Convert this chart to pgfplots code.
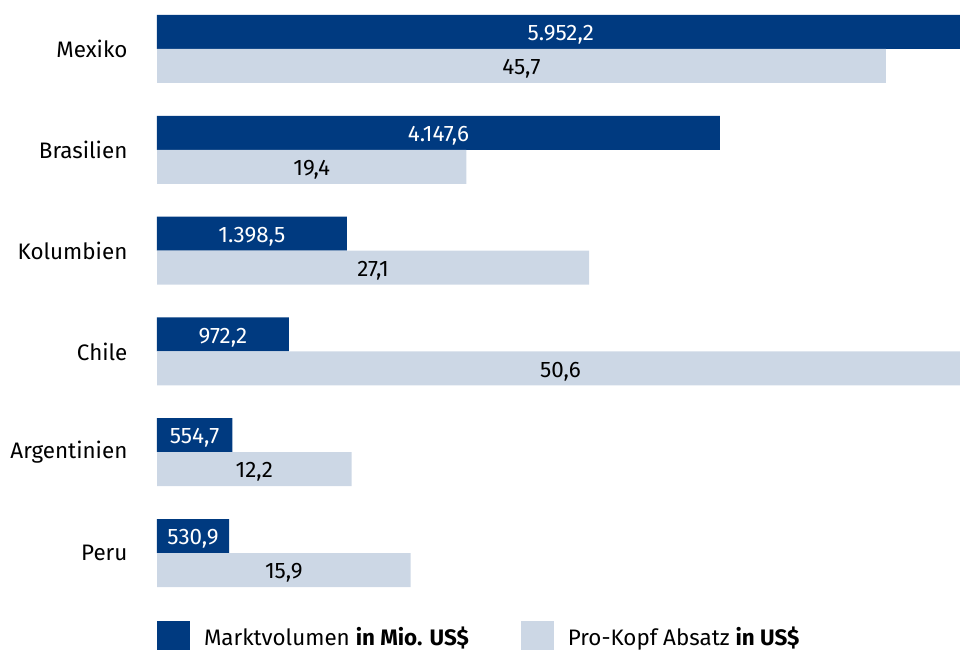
\documentclass[border=0pt]{standalone}
\usepackage{pgfplots}
\pgfplotsset{compat=1.18}
\usepackage{pgfplotstable}
\usepackage{fontspec}
\setmainfont{Fira Sans}
\definecolor{markt}{HTML}{003A80}
\definecolor{kopf}{HTML}{CCD7E5}

% y: 5 = Mexiko ... 0 = Peru
\pgfplotstableread{
y v lab
5 5952.2 5.952,2
4 4147.6 4.147,6
3 1398.5 1.398,5
2 972.2 972,2
1 554.7 554,7
0 530.9 530,9
}\tabvol
\pgfplotstableread{
y v lab
5 45.7 45,7
4 19.4 19,4
3 27.1 27,1
2 50.6 50,6
1 12.2 12,2
0 15.9 15,9
}\tabkopf

\pgfplotsset{
  base/.style={
    scale only axis, width=401.5pt, height=324.5pt,
    at={(78.5pt,-324.5pt)}, anchor=south west,
    xmin=0, ymin=-0.952, ymax=5.486,
    clip=false,
    xbar, bar width=17pt,
    font=\fontsize{11.2}{13}\selectfont,
    nodes near coords, point meta=explicit symbolic,
    visualization depends on={rawx \as \rawx},
  },
}

\begin{document}
\begin{tikzpicture}
\useasboundingbox (0,0) rectangle (480pt,-324.5pt);
\begin{axis}[base, xmax=5917,
    hide x axis,
    y axis line style={draw=none},
    ytick={0,...,5},
    yticklabels={Peru,Argentinien,Chile,Kolumbien,Brasilien,Mexiko},
    ytick style={draw=none},
    yticklabel style={xshift=-7pt},
    every node near coord/.append style={anchor=center, text=white, yshift=-1.5pt,
      xshift={-0.5*\rawx/5917*401.5}},
  ]
  \addplot[fill=markt, draw=none, bar shift=8.5pt] table[x=v, y=y, meta=lab] {\tabvol};
\end{axis}
\begin{axis}[base, xmax=50.35,
    hide axis,
    every node near coord/.append style={anchor=center, text=black, yshift=-1.5pt,
      xshift={-0.5*\rawx/50.35*401.5}},
    legend image code/.code={\fill[#1] (0pt,-8.25pt) rectangle (16.5pt,8.25pt);},
    legend columns=2,
    legend style={at={(rel axis cs:0,0.043)}, anchor=north west, draw=none, fill=none,
      inner sep=0pt, outer sep=0pt, font=\fontsize{11.2}{13}\selectfont,
      /tikz/every odd column/.style={column sep=7pt},
      /tikz/every even column/.style={column sep=26pt},
      nodes={inner sep=0pt, outer xsep=0pt}},
    legend cell align=left,
  ]
  \addlegendimage{fill=markt, draw=none}
  \addlegendentry{Marktvolumen \textbf{in Mio. US\$}}
  \addplot[fill=kopf, draw=none, bar shift=-8.5pt] table[x=v, y=y, meta=lab] {\tabkopf};
  \addlegendentry{Pro-Kopf Absatz \textbf{in US\$}}
\end{axis}
\end{tikzpicture}
\end{document}
